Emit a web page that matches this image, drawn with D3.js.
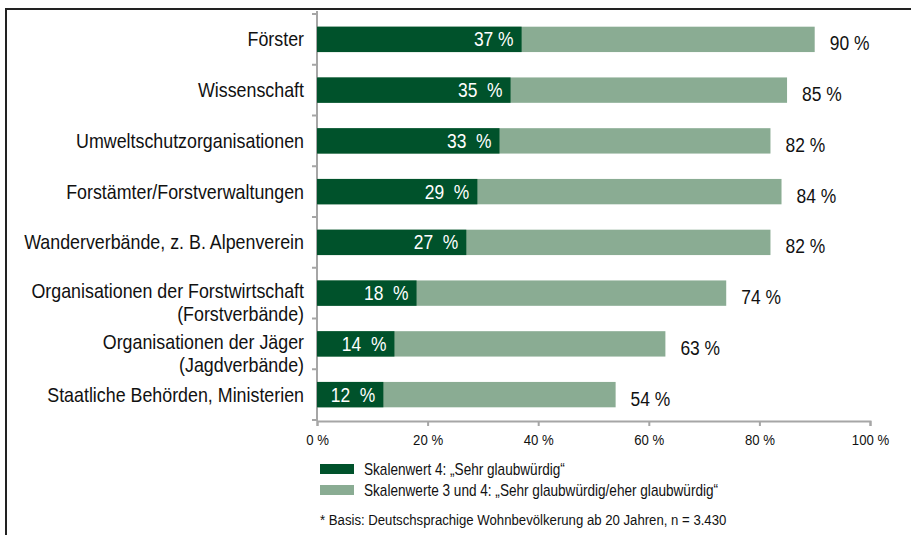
<!DOCTYPE html>
<html>
<head>
<meta charset="utf-8">
<script src="https://cdn.jsdelivr.net/npm/d3@7"></script>
<style>
  body { margin: 0; background: #fff; }
  svg text { font-family: "Liberation Sans", Arial, sans-serif; }
</style>
</head>
<body>
<div id="chart"></div>
<script>
var categories = [
    ["Förster"],
    ["Wissenschaft"],
    ["Umweltschutzorganisationen"],
    ["Forstämter/Forstverwaltungen"],
    ["Wanderverbände, z. B. Alpenverein"],
    ["Organisationen der Forstwirtschaft", "(Forstverbände)"],
    ["Organisationen der Jäger", "(Jagdverbände)"],
    ["Staatliche Behörden, Ministerien"]
];
var sehrGlaubwuerdig = [37, 35, 33, 29, 27, 18, 14, 12];
var sehrLabels = ["37 %", "35  %", "33  %", "29  %", "27  %", "18  %", "14  %", "12  %"];
var eherGlaubwuerdig = [90, 85, 82, 84, 82, 74, 63, 54];
var xTicks = [0, 20, 40, 60, 80, 100];
var legendLabels = ["Skalenwert 4: \u201ESehr glaubwürdig\u201C", "Skalenwerte 3 und 4: \u201ESehr glaubwürdig/eher glaubwürdig\u201C"];
var footnote = "* Basis: Deutschsprachige Wohnbevölkerung ab 20 Jahren, n = 3.430";

var width = 911, height = 535;
var darkGreen = "#00522b", lightGreen = "#8aac93", axisGrey = "#a6a6a6";
var squeeze = 0.85;   // fake a condensed face

var svg = d3.select("#chart").append("svg")
    .attr("width", width)
    .attr("height", height);

// narrow text: move x/y into a transform and squeeze horizontally
function narrow(sel, tx, ty) {
    sel.attr("transform", function(d, i) {
        return "translate(" + tx(d, i) + "," + ty(d, i) + ") scale(" + squeeze + ",1)";
    });
}

// frame: top and left edge only
svg.append("path")
    .attr("d", "M6,535 V9 H911")
    .attr("fill", "none")
    .attr("stroke", "#222")
    .attr("stroke-width", 2);

var x = d3.scaleLinear().domain([0, 100]).range([317, 870]);
var y = d3.scaleBand().domain(d3.range(categories.length)).range([14, 420]).paddingInner(0.5).paddingOuter(0.25);
var step = y.step();

// y axis line with small ticks at band boundaries
var yAxisG = svg.append("g");
yAxisG.append("line")
    .attr("x1", x(0)).attr("x2", x(0))
    .attr("y1", 11).attr("y2", 421)
    .attr("stroke", axisGrey).attr("stroke-width", 2);
yAxisG.selectAll("line.tk")
    .data(d3.range(categories.length + 1))
    .enter().append("line")
    .attr("class", "tk")
    .attr("x1", x(0) - 5).attr("x2", x(0))
    .attr("y1", function(d) { return y(0) - step * 0.25 + d * step; })
    .attr("y2", function(d) { return y(0) - step * 0.25 + d * step; })
    .attr("stroke", axisGrey).attr("stroke-width", 2);

// x axis
var xAxis = d3.axisBottom(x)
    .tickValues(xTicks)
    .tickSize(5)
    .tickPadding(8)
    .tickFormat(function(d) { return d + " %"; });
var xg = svg.append("g").attr("transform", "translate(0,421)").call(xAxis);
xg.select(".domain").attr("stroke", axisGrey).attr("stroke-width", 2);
xg.selectAll(".tick line").attr("stroke", axisGrey).attr("stroke-width", 2);
xg.selectAll(".tick text")
    .attr("fill", "#111")
    .attr("transform", "scale(" + squeeze + ",1)")
    .style("font-size", "15.5px");

// category labels (two-line ones start a bit higher)
var catLabels = svg.selectAll("text.cat")
    .data(categories)
    .enter().append("text")
    .attr("class", "cat")
    .attr("text-anchor", "end")
    .attr("fill", "#111")
    .style("font-size", "21px");
narrow(catLabels, function() { return 304; }, function(d, i) {
    return y(i) + y.bandwidth() / 2 + (d.length > 1 ? 5 : 7);
});
catLabels.each(function(d) {
    var t = d3.select(this);
    d.forEach(function(line, j) {
        t.append("tspan")
            .attr("x", 0)
            .attr("y", j * 23)
            .text(line);
    });
});

// light bars (3+4)
svg.selectAll("rect.light")
    .data(eherGlaubwuerdig)
    .enter().append("rect")
    .attr("class", "light")
    .attr("x", x(0))
    .attr("y", function(d, i) { return y(i); })
    .attr("width", function(d) { return x(d) - x(0); })
    .attr("height", y.bandwidth())
    .attr("fill", lightGreen);

// dark bars (4)
svg.selectAll("rect.dark")
    .data(sehrGlaubwuerdig)
    .enter().append("rect")
    .attr("class", "dark")
    .attr("x", x(0))
    .attr("y", function(d, i) { return y(i); })
    .attr("width", function(d) { return x(d) - x(0); })
    .attr("height", y.bandwidth())
    .attr("fill", darkGreen);

// labels inside dark bars
var inner = svg.selectAll("text.inner")
    .data(sehrGlaubwuerdig)
    .enter().append("text")
    .attr("class", "inner")
    .attr("text-anchor", "end")
    .attr("fill", "#fff")
    .style("font-size", "20.5px")
    .style("white-space", "pre")
    .text(function(d, i) { return sehrLabels[i]; });
narrow(inner, function(d) { return x(d) - 8; }, function(d, i) { return y(i) + y.bandwidth() / 2 + 7; });

// labels after light bars
var outer = svg.selectAll("text.outer")
    .data(eherGlaubwuerdig)
    .enter().append("text")
    .attr("class", "outer")
    .attr("fill", "#111")
    .style("font-size", "20.5px")
    .text(function(d) { return d + " %"; });
narrow(outer, function(d) { return x(d) + 15; }, function(d, i) { return y(i) + y.bandwidth() / 2 + 11; });

// legend
var legend = svg.selectAll("g.legend")
    .data(legendLabels)
    .enter().append("g")
    .attr("class", "legend")
    .attr("transform", function(d, i) { return "translate(320," + (464 + i * 21) + ")"; });
legend.append("rect")
    .attr("width", 34).attr("height", 10)
    .attr("fill", function(d, i) { return i === 0 ? darkGreen : lightGreen; });
var legendText = legend.append("text")
    .attr("fill", "#111")
    .style("font-size", "16px")
    .text(function(d) { return d; });
narrow(legendText, function() { return 44; }, function() { return 11; });

var foot = svg.append("text")
    .datum(footnote)
    .attr("fill", "#111")
    .style("font-size", "15.5px")
    .text(function(d) { return d; });
narrow(foot, function() { return 320; }, function() { return 525; });
</script>
</body>
</html>
